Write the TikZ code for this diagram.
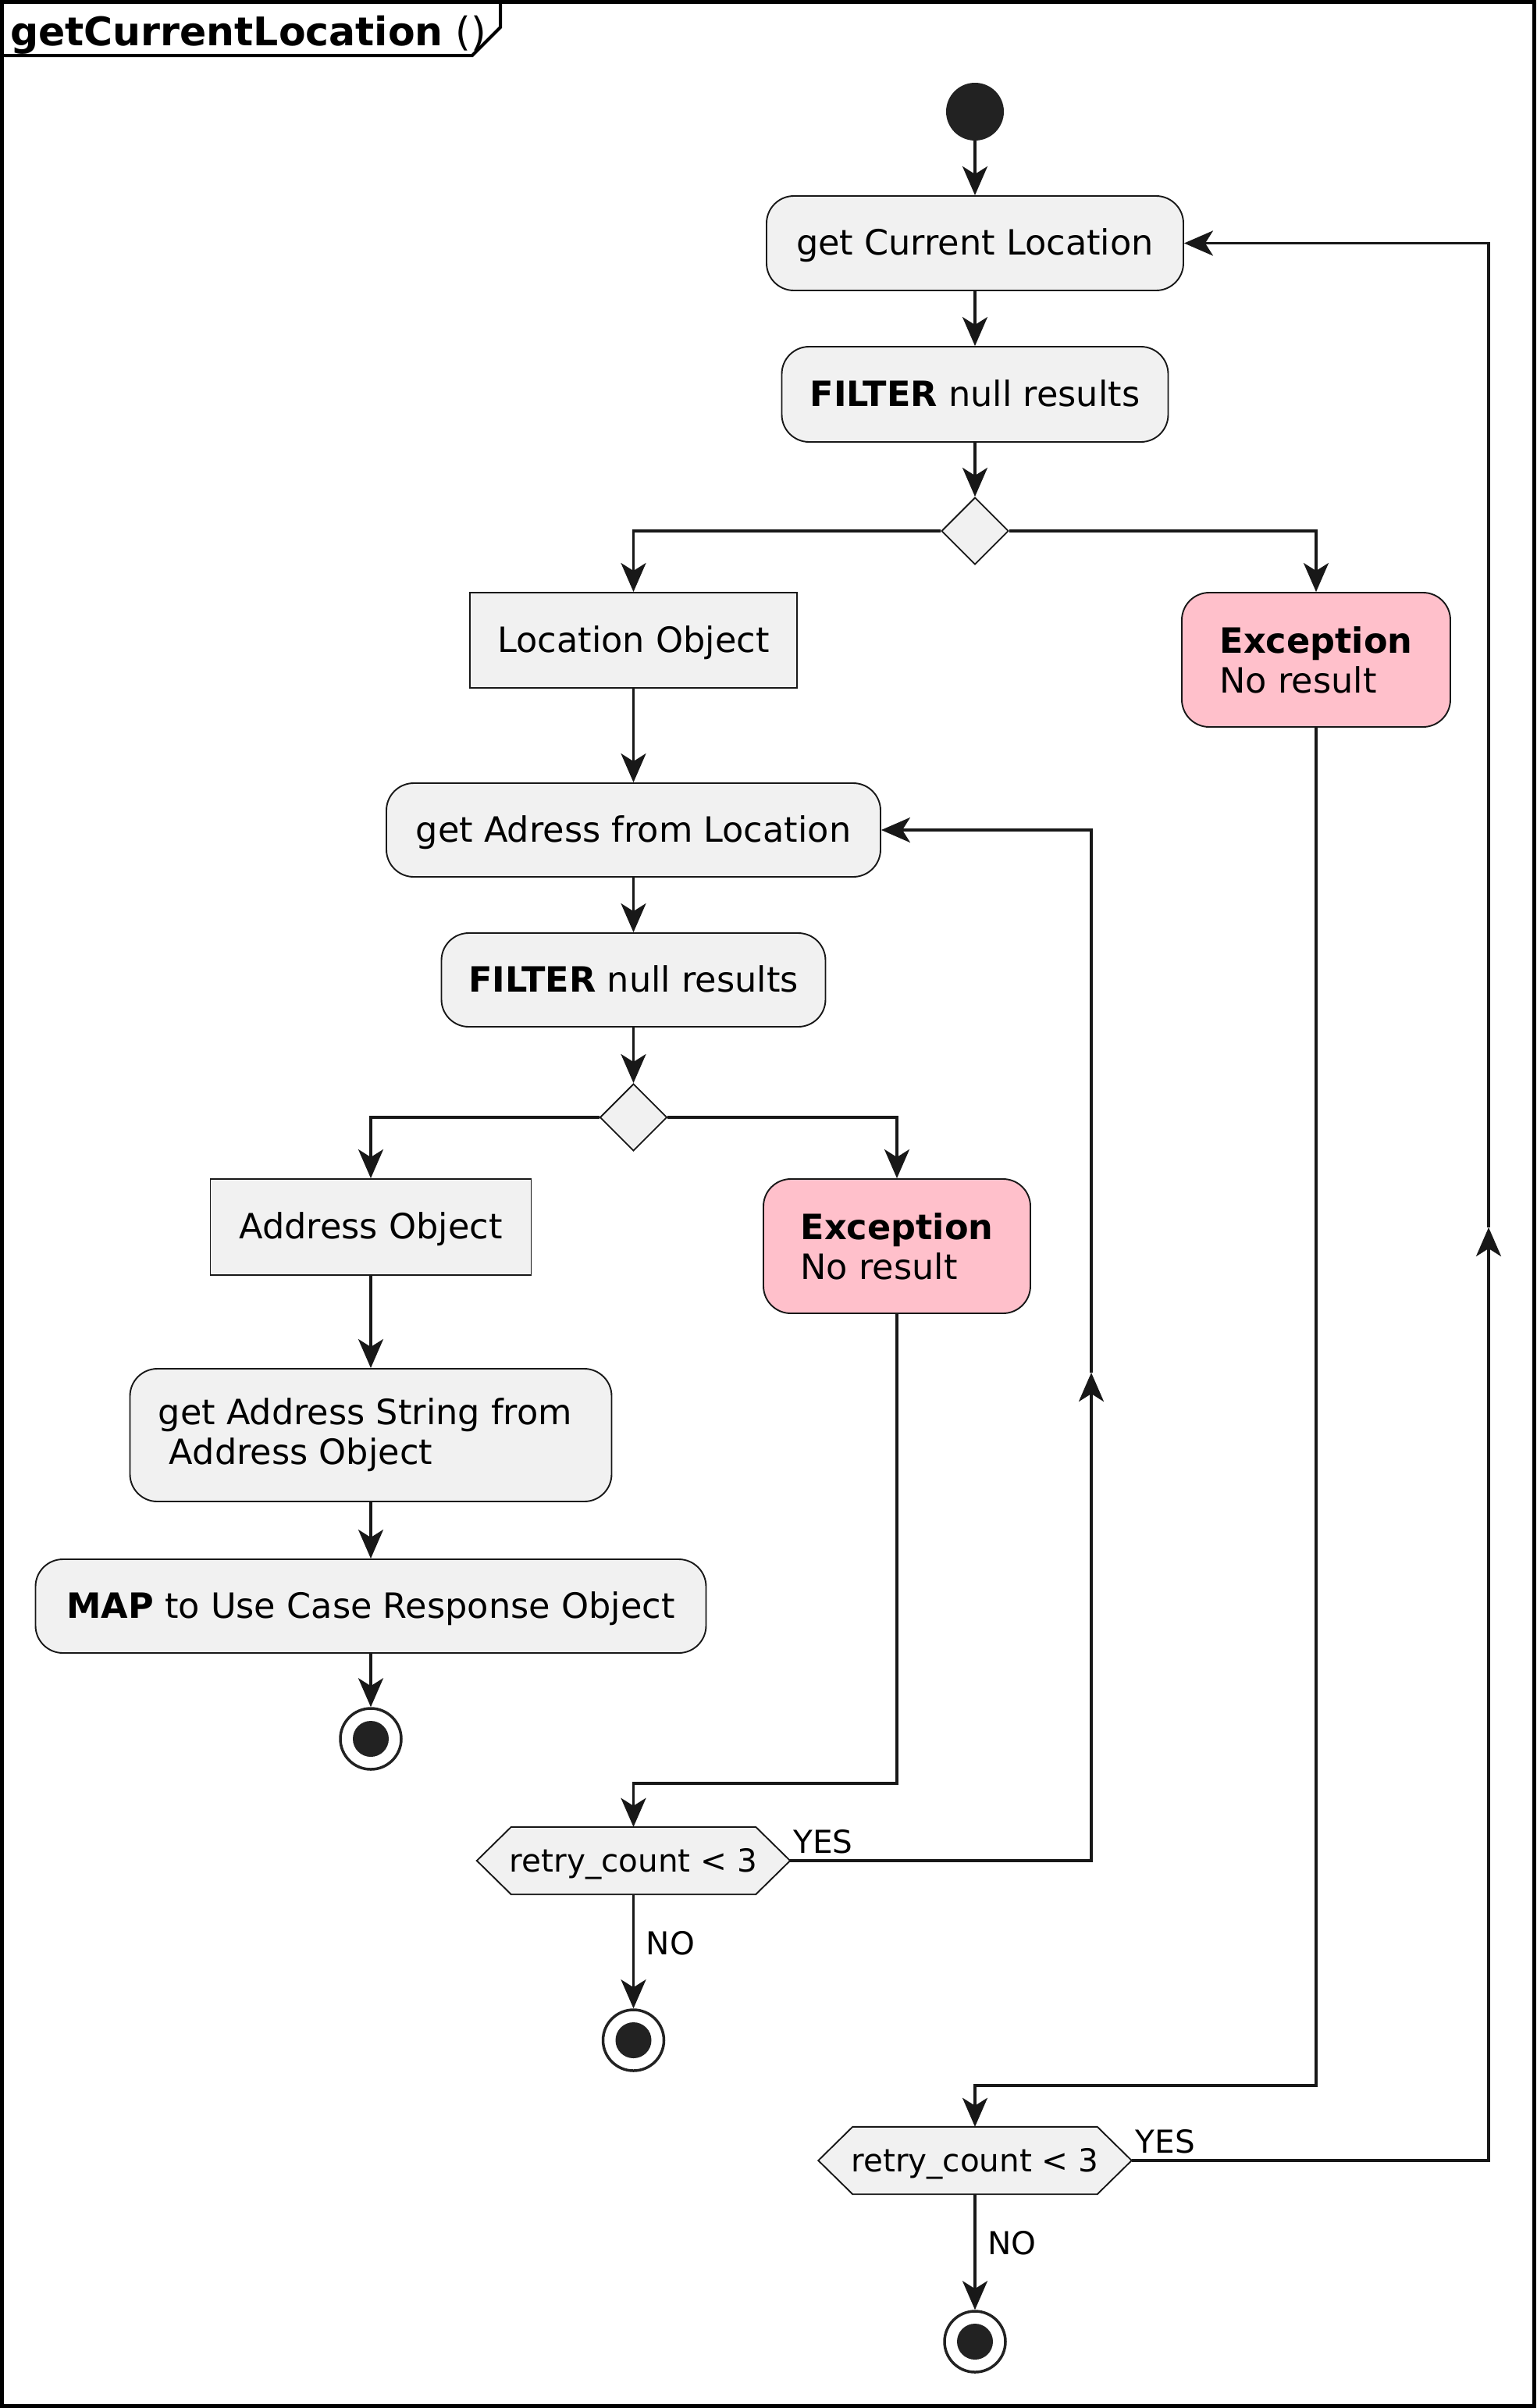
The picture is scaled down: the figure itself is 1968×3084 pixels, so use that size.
\documentclass[tikz,border=0pt]{standalone}
\usepackage{fontspec}
\setmainfont{DejaVu Sans}
\usetikzlibrary{arrows.meta,shapes.geometric,calc}
\definecolor{cline}{HTML}{181818}
\definecolor{cfill}{HTML}{F1F1F1}
\definecolor{cpink}{HTML}{FFC0CB}
\definecolor{cdark}{HTML}{222222}
\pgfdeclarelayer{bg}
\pgfsetlayers{bg,main}
\begin{document}
\begin{tikzpicture}[x=1pt,y=-1pt,
  mainfont/.style={font=\fontsize{44.6}{51}\selectfont},
  smallfont/.style={font=\fontsize{40.5}{46}\selectfont},
  box/.style={draw=cline, line width=1.9pt, fill=cfill, inner sep=0pt, align=center, mainfont},
  sl/.style={text height=41.5pt, text depth=10.7pt},
  act/.style={box, rounded corners=35pt},
  obj/.style={box},
  exc/.style={box, rounded corners=35pt, fill=cpink, align=left},
  dia/.style={diamond, draw=cline, line width=1.9pt, fill=cfill, inner sep=0pt, minimum width=86pt, minimum height=86pt},
  hexn/.style={inner sep=0pt, minimum width=401pt, minimum height=86pt, smallfont, text height=37.7pt, text depth=9.7pt},
  hexline/.style={draw=cline, line width=1.9pt, fill=cfill},
  startn/.style={circle, fill=cdark, inner sep=0pt, minimum size=74pt},
  endn/.style={circle, draw=cdark, line width=3.5pt, fill=white, inner sep=0pt, minimum size=78pt,
     path picture={\fill[cdark] (path picture bounding box.center) circle (23pt);}},
  line/.style={draw=cline, line width=3.5pt},
  arr/.style={line, -{Stealth[length=37pt,width=32pt,inset=10pt]}},
  lbl/.style={smallfont, inner sep=0pt, anchor=base west}
]
\useasboundingbox (0,0) rectangle (1968,3084);
\begin{pgfonlayer}{bg}
\fill[white] (0,0) rectangle (1968,3084);
\end{pgfonlayer}

% frame and title tab
\draw[line width=5pt, draw=black] (2.5,2.5) rectangle (1965.5,3081.5);
\draw[line width=4pt, draw=black] (0,71) -- (605,71) -- (641,35) -- (641,0);
\node[anchor=base west, inner sep=0pt, font=\fontsize{50.5}{56}\selectfont] (title) at (13,58) {\textbf{getCurrentLocation} ()};

% nodes
\node[startn] (start) at (1249,143) {};
\node[act, sl, minimum width=534pt, minimum height=121pt] (gcl) at (1249,311.5) {get Current Location};
\node[act, sl, minimum width=495pt, minimum height=122pt] (filt1) at (1249,505) {\textbf{FILTER} null results};
\node[dia] (dia1) at (1249,680) {};
\node[obj, sl, minimum width=419pt, minimum height=122pt] (loc) at (811.5,820) {Location Object};
\node[exc, minimum width=344pt, minimum height=172pt] (exc1) at (1686,845) {\textbf{Exception}\\No result};
\node[act, sl, minimum width=633pt, minimum height=120pt] (gadr) at (811.5,1063) {get Adress from Location};
\node[act, sl, minimum width=492pt, minimum height=120pt] (filt2) at (811.5,1255) {\textbf{FILTER} null results};
\node[dia] (dia2) at (811.5,1431) {};
\node[obj, sl, minimum width=411pt, minimum height=123pt] (adro) at (475,1571.5) {Address Object};
\node[exc, minimum width=342pt, minimum height=172pt] (exc2) at (1149,1596) {\textbf{Exception}\\No result};
\node[act, align=left, minimum width=617pt, minimum height=170pt] (gas) at (475,1838) {get Address String from\hspace*{0.32em}\\\hspace*{0.32em}Address Object};
\node[act, sl, minimum width=859pt, minimum height=120pt] (map) at (475,2057) {\textbf{MAP} to Use Case Response Object};
\node[endn] (end1) at (475,2227) {};
\node[hexn] (hex1) at (811.5,2383) {retry\_count < 3};
\node[endn] (end2) at (811.5,2613) {};
\node[hexn] (hex2) at (1249,2767) {retry\_count < 3};
\node[endn] (end3) at (1249,2999) {};

\begin{pgfonlayer}{bg}
\draw[hexline] (hex1.west) -- ($(hex1.north west)+(44,0)$) -- ($(hex1.north east)+(-44,0)$) -- (hex1.east) -- ($(hex1.south east)+(-44,0)$) -- ($(hex1.south west)+(44,0)$) -- cycle;
\draw[hexline] (hex2.west) -- ($(hex2.north west)+(44,0)$) -- ($(hex2.north east)+(-44,0)$) -- (hex2.east) -- ($(hex2.south east)+(-44,0)$) -- ($(hex2.south west)+(44,0)$) -- cycle;
\end{pgfonlayer}

% helper coordinates
\coordinate (j1) at (811.5,2284);
\coordinate (j2) at (1249,2671);
\coordinate (r1b) at (1398,2383);
\coordinate (r1m) at (1398,1758);
\coordinate (r1t) at (1398,1063);
\coordinate (r2b) at (1907,2767);
\coordinate (r2m) at (1907,1572);
\coordinate (r2t) at (1907,311.5);

% connectors
\draw[arr] (start) -- (gcl);
\draw[arr] (gcl) -- (filt1);
\draw[arr] (filt1) -- (dia1);
\draw[arr] (dia1.west) -| (loc.north);
\draw[arr] (dia1.east) -| (exc1.north);
\draw[arr] (loc) -- (gadr);
\draw[arr] (gadr) -- (filt2);
\draw[arr] (filt2) -- (dia2);
\draw[arr] (dia2.west) -| (adro.north);
\draw[arr] (dia2.east) -| (exc2.north);
\draw[arr] (adro) -- (gas);
\draw[arr] (gas) -- (map);
\draw[arr] (map) -- (end1);
\draw[arr] (exc2.south) |- (j1) -- (hex1.north);
\draw[arr] (hex1.south) -- (end2);
\draw[arr] (hex1.east) -- (r1b) -- (r1m);
\draw[arr] (r1m) -- (r1t) -- (gadr.east);
\draw[arr] (exc1.south) |- (j2) -- (hex2.north);
\draw[arr] (hex2.south) -- (end3);
\draw[arr] (hex2.east) -- (r2b) -- (r2m);
\draw[arr] (r2m) -- (r2t) -- (gcl.east);

% labels
\node[lbl] (yes1) at ($(hex1.east)+(4,-10)$) {YES};
\node[lbl] (no1) at ($(hex1.south)+(16,77)$) {NO};
\node[lbl] (yes2) at ($(hex2.east)+(5,-10)$) {YES};
\node[lbl] (no2) at ($(hex2.south)+(16,77)$) {NO};
\end{tikzpicture}
\end{document}
